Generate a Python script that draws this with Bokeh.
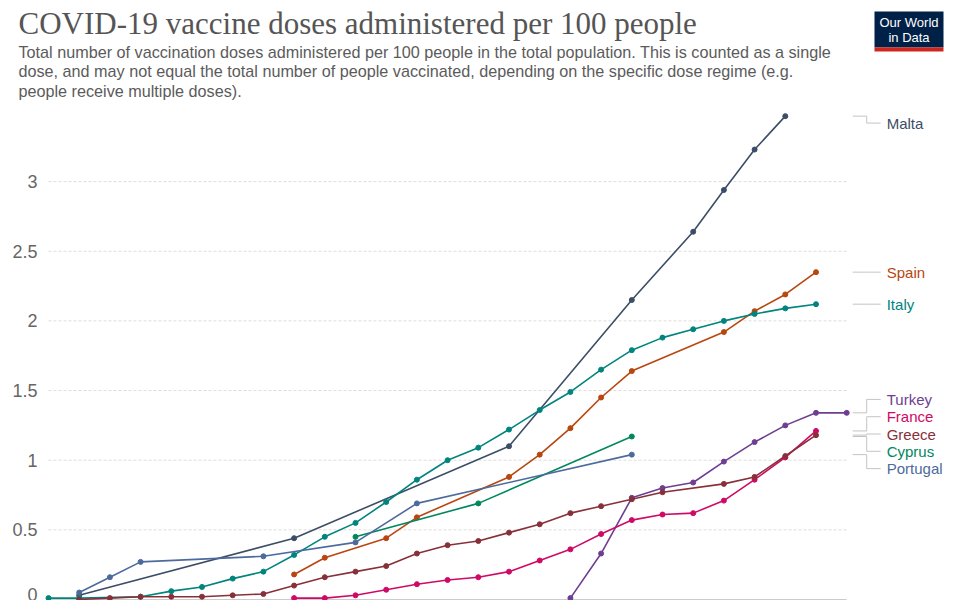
import pandas as pd
from bokeh.plotting import figure
from bokeh.layouts import column
from bokeh.models import Range1d, FixedTicker, NumeralTickFormatter, ColumnDataSource
from bokeh.core.properties import value
from bokeh.embed import file_html
from bokeh.resources import INLINE

# ---------------- data ----------------
TITLE = "COVID-19 vaccine doses administered per 100 people"
SUBTITLE = [
    "Total number of vaccination doses administered per 100 people in the total population. This is counted as a single",
    "dose, and may not equal the total number of people vaccinated, depending on the specific dose regime (e.g.",
    "people receive multiple doses).",
]
LOGO = ["Our World", "in Data"]
START = pd.Timestamp("2020-12-27")  # day 0
Y_TICKS = [0, 0.5, 1, 1.5, 2, 2.5, 3]

countries = ["Malta", "Spain", "Italy", "Turkey", "France", "Greece", "Cyprus", "Portugal"]

# days since START, doses per 100 people
malta_days = [1, 8, 15, 19, 21, 22, 23, 24]
malta_vals = [0.03, 0.44, 1.10, 2.15, 2.64, 2.94, 3.23, 3.47]

spain_days = [8, 9, 11, 12, 15, 16, 17, 18, 19, 22, 23, 24, 25]
spain_vals = [0.18, 0.30, 0.44, 0.59, 0.88, 1.04, 1.23, 1.45, 1.64, 1.92, 2.07, 2.19, 2.35]

italy_days = [0, 1, 3, 4, 5, 6, 7, 8, 9, 10, 11, 12, 13, 14, 15, 16, 17, 18, 19, 20, 21, 22, 23, 24, 25]
italy_vals = [0.01, 0.01, 0.02, 0.06, 0.09, 0.15, 0.20, 0.32, 0.45, 0.55, 0.70, 0.86, 1.00, 1.09,
              1.22, 1.36, 1.49, 1.65, 1.79, 1.88, 1.94, 2.00, 2.05, 2.09, 2.12]

turkey_days = [17, 18, 19, 20, 21, 22, 23, 24, 25, 26]
turkey_vals = [0.01, 0.33, 0.73, 0.80, 0.84, 0.99, 1.13, 1.25, 1.34, 1.34]

france_days = [8, 9, 10, 11, 12, 13, 14, 15, 16, 17, 18, 19, 20, 21, 22, 23, 24, 25]
france_vals = [0.01, 0.01, 0.03, 0.07, 0.11, 0.14, 0.16, 0.20, 0.28, 0.36, 0.47, 0.57, 0.61, 0.62,
               0.71, 0.86, 1.02, 1.21]

greece_days = [1, 2, 3, 4, 5, 6, 7, 8, 9, 10, 11, 12, 13, 14, 15, 16, 17, 18, 19, 20, 22, 23, 24, 25]
greece_vals = [0.00, 0.01, 0.02, 0.02, 0.02, 0.03, 0.04, 0.10, 0.16, 0.20, 0.24, 0.33, 0.39, 0.42,
               0.48, 0.54, 0.62, 0.67, 0.72, 0.77, 0.83, 0.88, 1.03, 1.18]

cyprus_days = [10, 14, 19]
cyprus_vals = [0.45, 0.69, 1.17]

portugal_days = [1, 2, 3, 7, 10, 12, 19]
portugal_vals = [0.05, 0.16, 0.27, 0.31, 0.41, 0.69, 1.04]

colors = {
    "Malta": "#3C4E66",
    "Spain": "#B8460F",
    "Italy": "#00847E",
    "Turkey": "#6D3E91",
    "France": "#CF0A66",
    "Greece": "#883039",
    "Cyprus": "#00875E",
    "Portugal": "#4C6A9C",
}

series = {
    "Malta": (malta_days, malta_vals),
    "Spain": (spain_days, spain_vals),
    "Italy": (italy_days, italy_vals),
    "Turkey": (turkey_days, turkey_vals),
    "France": (france_days, france_vals),
    "Greece": (greece_days, greece_vals),
    "Cyprus": (cyprus_days, cyprus_vals),
    "Portugal": (portugal_days, portugal_vals),
}

# ---------------- layout constants ----------------
W, H = 960, 600
HEADER_H = 110
CHART_H = H - HEADER_H
FRAME_LEFT = 44          # px
X0_PX = 48               # px of day 0
PX_PER_DAY = 30.7
Y0_PX = 599              # px (page) of value 0
PX_PER_UNIT = 139.3


def day(d):
    return START + pd.Timedelta(days=d)


def to_ms(ts):
    return (ts - pd.Timestamp("1970-01-01")).total_seconds() * 1000.0


# ---------------- header figure ----------------
hdr = figure(width=W, height=HEADER_H, output_backend="svg", toolbar_location=None,
             x_range=Range1d(0, W), y_range=Range1d(HEADER_H, 0),
             min_border_left=0, min_border_right=0, min_border_top=0, min_border_bottom=0)
hdr.frame_align = False
hdr.axis.visible = False
hdr.grid.visible = False
hdr.outline_line_color = None
hdr.background_fill_color = "white"
hdr.border_fill_color = "white"

hdr.text(x=[18], y=[23], text=[TITLE], text_font=value("Liberation Serif"), text_font_size="31px",
         text_color="#555555", text_baseline="middle", text_align="left")
hdr.text(x=[18] * len(SUBTITLE), y=[51 + 19.5 * i for i in range(len(SUBTITLE))], text=SUBTITLE,
         text_font=value("Liberation Sans"), text_font_size="16.2px", text_color="#5b5b5b",
         text_baseline="middle", text_align="left")
hdr.quad(left=[874], right=[943], top=[11], bottom=[47], fill_color="#002147", line_color=None)
hdr.quad(left=[874], right=[943], top=[47], bottom=[51], fill_color="#CE261E", line_color=None)
hdr.text(x=[908.5, 908.5], y=[22, 37], text=LOGO, text_font=value("Liberation Sans"),
         text_font_size="13px", text_color="white", text_baseline="middle", text_align="center")

# ---------------- chart figure ----------------
x_start = day(-(X0_PX - FRAME_LEFT) / PX_PER_DAY)
x_end = day((W - X0_PX) / PX_PER_DAY)
y_start = -(H - Y0_PX) / PX_PER_UNIT
y_end = (Y0_PX - HEADER_H) / PX_PER_UNIT

p = figure(width=W, height=CHART_H, output_backend="svg", toolbar_location=None,
           x_axis_type="datetime",
           x_range=Range1d(to_ms(x_start), to_ms(x_end)),
           y_range=Range1d(y_start, y_end),
           min_border_left=FRAME_LEFT, min_border_right=0,
           min_border_top=0, min_border_bottom=0)
p.frame_align = False
p.outline_line_color = None
p.background_fill_color = "white"
p.border_fill_color = "white"
p.xaxis.visible = False
p.xgrid.visible = False
p.ygrid.visible = False

yax = p.yaxis[0]
yax.ticker = FixedTicker(ticks=Y_TICKS)
yax.formatter = NumeralTickFormatter(format="0.[0]")
yax.axis_line_color = None
yax.major_tick_line_color = None
yax.minor_tick_line_color = None
yax.major_label_text_font = "Liberation Sans"
yax.major_label_text_font_size = "18px"
yax.major_label_text_color = "#666666"
yax.major_label_standoff = 1

# grid lines (ending at the last date)
all_days = sorted({d for ds, _ in series.values() for d in ds})
last_day = max(all_days)
grid_y = [t for t in Y_TICKS if t > 0]
p.segment(x0=[day(0)] * len(grid_y), x1=[day(last_day)] * len(grid_y), y0=grid_y, y1=grid_y,
          line_color="#dddddd", line_width=1, line_dash="3 2")
p.segment(x0=[day(0)], x1=[day(last_day)], y0=[0], y1=[0], line_color="#cccccc", line_width=1)

# lines & points
for c in countries:
    ds, vs = series[c]
    src = ColumnDataSource(dict(x=[day(d) for d in ds], y=vs))
    p.line("x", "y", source=src, line_color=colors[c], line_width=1.6)
    p.scatter("x", "y", source=src, marker="circle", size=5, fill_color=colors[c], line_color=colors[c])

# end labels with simple collision avoidance
GAP = 17.3 / PX_PER_UNIT
TOP_LIMIT = 3.42
ends = [(c, series[c][1][-1]) for c in countries]
ends.sort(key=lambda t: -t[1])
clusters = [[e] for e in ends]


def cluster_top(cl):
    mean = sum(v for _, v in cl) / len(cl)
    return min(mean + GAP * (len(cl) - 1) / 2, TOP_LIMIT)


changed = True
while changed:
    changed = False
    for i in range(len(clusters) - 1):
        bottom_i = cluster_top(clusters[i]) - GAP * (len(clusters[i]) - 1)
        if bottom_i - cluster_top(clusters[i + 1]) < GAP - 1e-9:
            clusters[i] = clusters[i] + clusters[i + 1]
            del clusters[i + 1]
            changed = True
            break

label_y = {}
for cl in clusters:
    top = cluster_top(cl)
    for k, (c, _) in enumerate(cl):
        label_y[c] = top - k * GAP

X_CONN0 = last_day + 6 / PX_PER_DAY
X_ELBOW = last_day + 20 / PX_PER_DAY
X_CONN1 = last_day + 34 / PX_PER_DAY
X_TEXT = last_day + 40 / PX_PER_DAY

xs, ys = [], []
for c in countries:
    ev = series[c][1][-1]
    ly = label_y[c]
    xs.append([day(X_CONN0), day(X_ELBOW), day(X_ELBOW), day(X_CONN1)])
    ys.append([ev, ev, ly, ly])
p.multi_line(xs, ys, line_color="#c4c4c4", line_width=1)

lab = ColumnDataSource(dict(x=[day(X_TEXT)] * len(countries), y=[label_y[c] for c in countries],
                            text=countries, color=[colors[c] for c in countries]))
p.text("x", "y", text="text", source=lab, text_color="color", text_font=value("Liberation Sans"),
       text_font_size="15px", text_baseline="middle", text_align="left")

layout = column(hdr, p, spacing=0)
open("out.html", "w").write(file_html(layout, INLINE))
